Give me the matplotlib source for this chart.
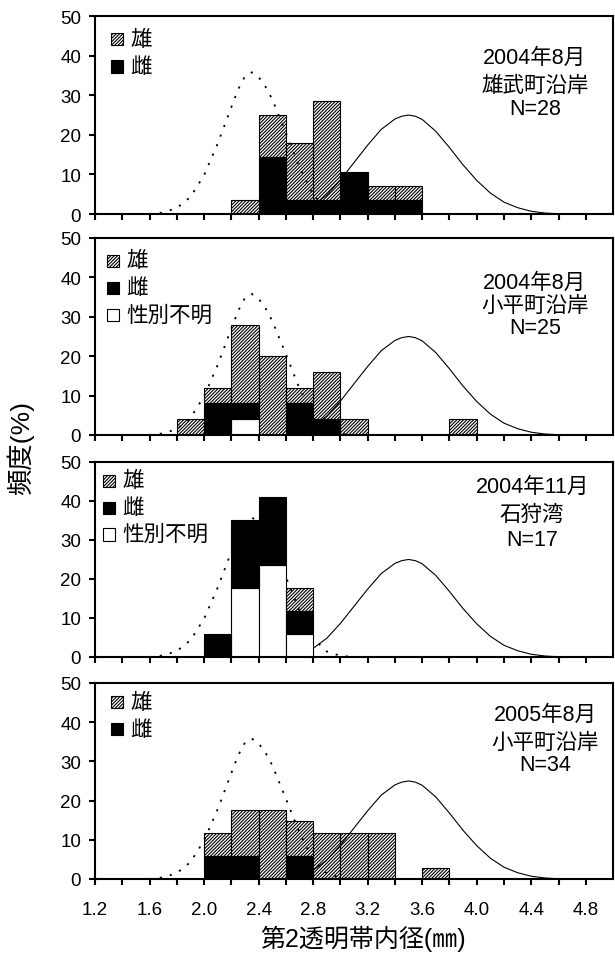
import numpy as np
import matplotlib.pyplot as plt
from matplotlib.patches import Rectangle

plt.rcParams['font.family'] = ['Liberation Sans', 'Noto Sans CJK JP']
plt.rcParams['hatch.linewidth'] = 0.8

# bin left edges (mm) and percentages per group
P1_LEFT = [2.2, 2.4, 2.6, 2.8, 3.0, 3.2, 3.4]
P1_UNKNOWN = [0, 0, 0, 0, 0, 0, 0]
P1_FEMALE = [0, 14.3, 3.6, 3.6, 10.7, 3.6, 3.6]
P1_MALE = [3.6, 10.7, 14.3, 25.0, 0, 3.6, 3.6]
P1_TEXT = ['2004年8月', '雄武町沿岸', 'N=28']

P2_LEFT = [1.8, 2.0, 2.2, 2.4, 2.6, 2.8, 3.0, 3.8]
P2_UNKNOWN = [0, 0, 4, 0, 0, 0, 0, 0]
P2_FEMALE = [0, 8, 4, 0, 8, 4, 0, 0]
P2_MALE = [4, 4, 20, 20, 4, 12, 4, 4]
P2_TEXT = ['2004年8月', '小平町沿岸', 'N=25']

P3_LEFT = [2.0, 2.2, 2.4, 2.6]
P3_UNKNOWN = [0, 17.6, 23.5, 5.9]
P3_FEMALE = [5.9, 17.6, 17.6, 5.9]
P3_MALE = [0, 0, 0, 5.9]
P3_TEXT = ['2004年11月', '石狩湾', 'N=17']

P4_LEFT = [2.0, 2.2, 2.4, 2.6, 2.8, 3.0, 3.2, 3.6]
P4_UNKNOWN = [0, 0, 0, 0, 0, 0, 0, 0]
P4_FEMALE = [5.9, 5.9, 0, 5.9, 0, 0, 0, 0]
P4_MALE = [5.9, 11.8, 17.6, 8.8, 11.8, 11.8, 11.8, 2.9]
P4_TEXT = ['2005年8月', '小平町沿岸', 'N=34']

SEX_LABELS = ['雄', '雌', '性別不明']
N_LEGEND = [2, 3, 3, 2]

# reference curves (same in every panel)
DOT_X = [1.6, 1.7, 1.8, 1.9, 2.0, 2.1, 2.2, 2.25, 2.3, 2.35, 2.4, 2.45, 2.5,
         2.6, 2.7, 2.8, 2.9, 3.0, 3.1]
DOT_Y = [0, 0.4, 1.5, 4.3, 9.8, 17.8, 27.0, 31.5, 34.8, 35.8, 34.6, 32.2, 29.0,
         20.5, 11.8, 4.8, 1.4, 0.3, 0]
SOL_X = [2.6, 2.7, 2.8, 2.9, 3.0, 3.1, 3.2, 3.3, 3.4, 3.45, 3.5, 3.55, 3.6,
         3.7, 3.8, 3.9, 4.0, 4.1, 4.2, 4.3, 4.4, 4.5, 4.6, 4.7]
SOL_Y = [0, 0.8, 2.2, 4.8, 8.6, 13.0, 17.4, 21.4, 24.0, 24.7, 25.0, 24.7, 23.9,
         20.9, 16.8, 12.4, 8.5, 5.3, 3.0, 1.6, 0.7, 0.25, 0.05, 0]

panels = [
    (P1_LEFT, P1_UNKNOWN, P1_FEMALE, P1_MALE, P1_TEXT),
    (P2_LEFT, P2_UNKNOWN, P2_FEMALE, P2_MALE, P2_TEXT),
    (P3_LEFT, P3_UNKNOWN, P3_FEMALE, P3_MALE, P3_TEXT),
    (P4_LEFT, P4_UNKNOWN, P4_FEMALE, P4_MALE, P4_TEXT),
]

# layout (figure fractions / axes fractions)
boxes = [(0.7746, 0.2075), (0.5430, 0.2065), (0.3103, 0.2044), (0.0776, 0.2055)]
leg_pos = [(0.030, 0.883), (0.023, 0.885), (0.015, 0.904), (0.030, 0.902)]
txt_pos = [(0.849, 0.790, 0.650, 0.535), (0.849, 0.775, 0.656, 0.547),
           (0.844, 0.875, 0.730, 0.605), (0.869, 0.838, 0.697, 0.583)]

fig = plt.figure(figsize=(6.15, 9.54), dpi=100)
W = 0.2
HATCH = '//////////'

for i, (left, unk, fem, male, txt) in enumerate(panels):
    b, h = boxes[i]
    ax = fig.add_axes([0.1545, b, 0.8423, h])
    left = np.array(left)
    unk = np.array(unk, float)
    fem = np.array(fem, float)
    male = np.array(male, float)

    ax.plot(DOT_X, DOT_Y, color='k', lw=1.3, ls=(0, (1.2, 4.5)), zorder=1)
    ax.plot(SOL_X, SOL_Y, color='k', lw=0.8, zorder=1)

    m = unk > 0
    ax.bar(left[m], unk[m], width=W, align='edge', color='white',
           edgecolor='k', lw=0.8, zorder=2)
    m = fem > 0
    ax.bar(left[m], fem[m], bottom=unk[m], width=W, align='edge',
           color='black', edgecolor='k', lw=0.8, zorder=2)
    m = male > 0
    ax.bar(left[m], male[m], bottom=(unk + fem)[m], width=W, align='edge',
           facecolor='none', hatch=HATCH, edgecolor='k', lw=0.8, zorder=2)

    ax.set_xlim(1.2, 5.0)
    ax.set_ylim(0, 50)
    ax.set_yticks(range(0, 51, 10))
    ax.set_xticks(np.arange(1.2, 4.81, 0.4))
    ax.set_xticks(np.arange(1.4, 5.0, 0.4), minor=True)
    ax.tick_params(axis='both', which='both', direction='out', length=4,
                   width=1.5)
    ax.tick_params(axis='y', labelsize=13.5, pad=6)
    ax.tick_params(axis='x', labelsize=13.5, pad=12)
    if i < 3:
        ax.tick_params(axis='x', labelbottom=False)
    else:
        ax.set_xticklabels(['%.1f' % v for v in np.arange(1.2, 4.81, 0.4)])
    for s in ax.spines.values():
        s.set_linewidth(1.5)

    # legend boxes
    lx, ly = leg_pos[i]
    for k in range(N_LEGEND[i]):
        y = ly - k * 0.138
        if k == 0:
            r = Rectangle((lx, y - 0.031), 0.024, 0.062, transform=ax.transAxes,
                          facecolor='white', hatch=HATCH, edgecolor='k', lw=0.8)
        elif k == 1:
            r = Rectangle((lx, y - 0.031), 0.024, 0.062, transform=ax.transAxes,
                          facecolor='black', edgecolor='k', lw=0.8)
        else:
            r = Rectangle((lx, y - 0.031), 0.024, 0.062, transform=ax.transAxes,
                          facecolor='white', edgecolor='k', lw=0.8)
        ax.add_patch(r)
        ax.text(lx + 0.038, y, SEX_LABELS[k], transform=ax.transAxes,
                fontsize=15.5, ha='left', va='center')

    tx, y1, y2, y3 = txt_pos[i]
    for line, ty in zip(txt, (y1, y2, y3)):
        ax.text(tx, ty, line, transform=ax.transAxes, fontsize=15.5,
                ha='center', va='center')

fig.text(20 / 615, 1 - 448 / 954, '頻度(%)', rotation=90, fontsize=19,
         ha='center', va='center')
fig.text(363 / 615, 1 - 939 / 954, '第2透明帯内径(㎜)', fontsize=18,
         ha='center', va='center')

plt.savefig('out.png', dpi=100)
